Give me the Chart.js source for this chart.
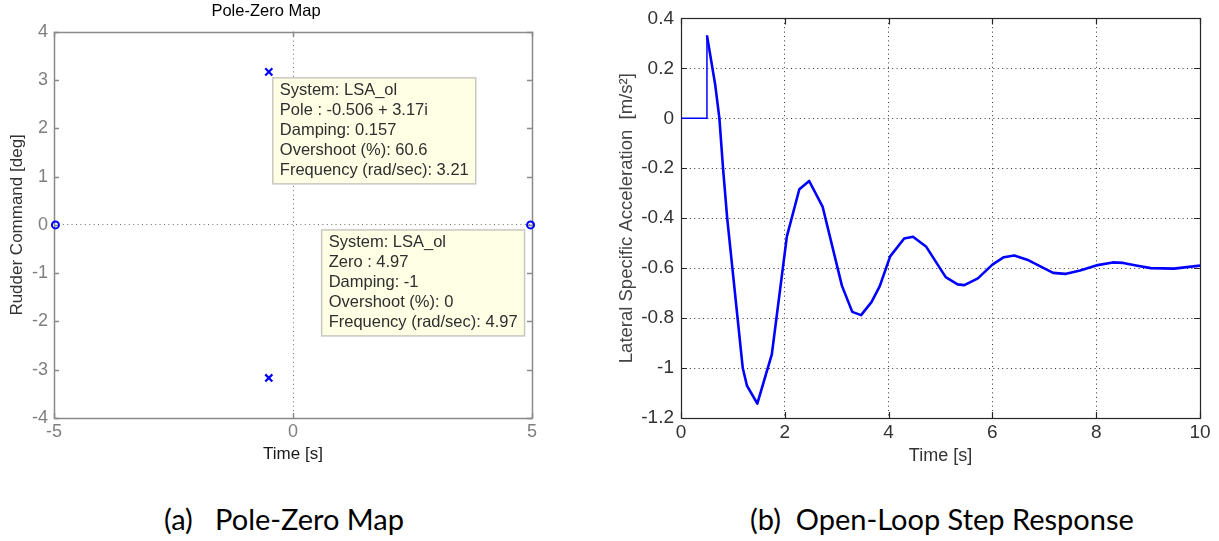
<!DOCTYPE html>
<html>
<head>
<meta charset="utf-8">
<title>Pole-Zero Map and Open-Loop Step Response</title>
<script src="https://cdn.jsdelivr.net/npm/chart.js"></script>
<style>
    body {
        margin: 0;
        background: #ffffff;
        width: 1219px;
        height: 541px;
        position: relative;
        overflow: hidden;
    }

    .panel {
        position: absolute;
        top: 0;
        height: 480px;
    }

    #pzPanel { left: 0; width: 600px; }
    #stepPanel { left: 600px; width: 619px; }

    /* Figure captions under each plot */
    .caption {
        position: absolute;
        top: 502px;
        font-family: Lato, 'Open Sans', sans-serif;
        font-size: 29px;
        line-height: 34px;
        color: #000;
        white-space: pre;
    }

    #capA { left: 164px; }
    #capB { left: 750px; }
</style>
</head>
<body>
<div class="panel" id="pzPanel"><canvas id="pzChart" width="600" height="480"></canvas></div>
<div class="panel" id="stepPanel"><canvas id="stepChart" width="619" height="480"></canvas></div>
<div class="caption" id="capA">(a)   Pole-Zero Map</div>
<div class="caption" id="capB">(b)  Open-Loop Step Response</div>

<script>
    // Pole-zero data
    const poleRe = [-0.506, -0.506];
    const poleIm = [3.17, -3.17];
    const zeroRe = [-4.97, 4.97];
    const zeroIm = [0, 0];
    const pzTicksX = [-5, 0, 5];
    const pzTicksY = [4, 3, 2, 1, 0, -1, -2, -3, -4];

    const poleInfo = ['System: LSA_ol', 'Pole : -0.506 + 3.17i', 'Damping: 0.157', 'Overshoot (%): 60.6', 'Frequency (rad/sec): 3.21'];
    const zeroInfo = ['System: LSA_ol', 'Zero : 4.97', 'Damping: -1', 'Overshoot (%): 0', 'Frequency (rad/sec): 4.97'];

    // Step response: flat part up to the step, then the response itself
    const preStepTime = [0, 0.5, 0.5];
    const preStepValue = [0, 0, 0.332];
    const stepTime = [0.5, 0.66, 0.74, 0.81, 0.89, 0.99, 1.09, 1.19, 1.27, 1.47, 1.75, 2.04, 2.28, 2.47, 2.73,
        3.10, 3.30, 3.47, 3.67, 3.83, 4.03, 4.30, 4.47, 4.72, 5.10, 5.33, 5.46, 5.72, 6.00, 6.22, 6.42, 6.67,
        7.17, 7.40, 7.69, 8.00, 8.32, 8.52, 8.77, 9.05, 9.50, 9.79, 10.0];
    const stepValue = [0.332, 0.133, 0.0, -0.2, -0.4, -0.6, -0.8, -1.0, -1.07, -1.142, -0.945, -0.473, -0.284, -0.251, -0.355,
        -0.67, -0.775, -0.788, -0.736, -0.672, -0.553, -0.481, -0.474, -0.513, -0.636, -0.665, -0.668, -0.641, -0.586, -0.556, -0.549, -0.566,
        -0.619, -0.623, -0.609, -0.589, -0.577, -0.579, -0.589, -0.6, -0.602, -0.595, -0.59];
    const stepTicksX = [0, 2, 4, 6, 8, 10];
    const stepTicksY = [0.4, 0.2, 0, -0.2, -0.4, -0.6, -0.8, -1, -1.2];

    const BLUE = '#0000ff';

    function toPoints(xs, ys) {
        return xs.map((x, i) => ({ x: x, y: ys[i] }));
    }

    function fixedTicks(values) {
        return scale => { scale.ticks = values.map(v => ({ value: v })); };
    }

    // Box around the plot area with small inward tick marks on all four sides
    const framePlugin = {
        id: 'frame',
        beforeDatasetsDraw(chart, args, opts) {
            const { ctx, chartArea: a, scales } = chart;
            const len = opts.tickLength || 5;
            ctx.save();
            ctx.strokeStyle = opts.color;
            ctx.lineWidth = opts.width || 1;
            ctx.beginPath();
            scales.x.ticks.forEach(t => {
                const px = Math.round(scales.x.getPixelForValue(t.value)) + 0.5;
                ctx.moveTo(px, a.bottom); ctx.lineTo(px, a.bottom - len);
                ctx.moveTo(px, a.top); ctx.lineTo(px, a.top + len);
            });
            scales.y.ticks.forEach(t => {
                const py = Math.round(scales.y.getPixelForValue(t.value)) + 0.5;
                ctx.moveTo(a.left, py); ctx.lineTo(a.left + len, py);
                ctx.moveTo(a.right, py); ctx.lineTo(a.right - len, py);
            });
            ctx.stroke();
            ctx.strokeRect(Math.round(a.left) + 0.5, Math.round(a.top) + 0.5,
                Math.round(a.right - a.left), Math.round(a.bottom - a.top));
            ctx.restore();
        }
    };

    // Data-tip boxes attached to a pole and a zero
    const dataTipPlugin = {
        id: 'dataTips',
        afterDraw(chart, args, opts) {
            const { ctx } = chart;
            (opts.tips || []).forEach(tip => {
                const el = chart.getDatasetMeta(tip.dataset).data[tip.index];
                ctx.save();
                ctx.font = opts.font;
                const textW = Math.max(...tip.lines.map(l => ctx.measureText(l).width));
                const w = textW + 2 * opts.padX;
                const h = tip.lines.length * opts.lineHeight + 6;
                const left = tip.side === 'right' ? el.x + tip.dx : el.x - tip.dx - w;
                const top = el.y + tip.dy;
                ctx.fillStyle = '#ffffe6';
                ctx.fillRect(left, top, w, h);
                ctx.strokeStyle = '#c8c8c0';
                ctx.lineWidth = 1.5;
                ctx.strokeRect(left, top, w, h);
                ctx.fillStyle = '#2e2e2e';
                ctx.textBaseline = 'middle';
                tip.lines.forEach((line, i) => {
                    ctx.fillText(line, left + opts.padX, top + 3 + opts.lineHeight * (i + 0.5));
                });
                ctx.restore();
            });
        }
    };

    Chart.defaults.font.family = "'Liberation Sans', Arial, sans-serif";

    new Chart(document.getElementById('pzChart'), {
        type: 'scatter',
        data: {
            datasets: [
                {
                    data: toPoints(poleRe, poleIm),
                    pointStyle: 'crossRot',
                    pointRadius: 5,
                    borderColor: BLUE,
                    borderWidth: 2.2
                },
                {
                    data: toPoints(zeroRe, zeroIm),
                    pointStyle: 'circle',
                    pointRadius: 3.5,
                    borderColor: BLUE,
                    backgroundColor: 'rgba(0,0,0,0)',
                    borderWidth: 2,
                    clip: false
                }
            ]
        },
        options: {
            responsive: false,
            animation: false,
            devicePixelRatio: 1,
            layout: { padding: { top: 0, right: 68, left: 0, bottom: 0 } },
            plugins: {
                legend: { display: false },
                tooltip: { enabled: false },
                title: {
                    display: true,
                    text: 'Pole-Zero Map',
                    color: '#000',
                    font: { size: 16.5, weight: 'normal' },
                    padding: { top: 2, bottom: 10 }
                },
                frame: { color: '#8a8a8a', width: 1.5, tickLength: 5 },
                dataTips: {
                    font: "16.5px 'Liberation Sans', Arial, sans-serif",
                    lineHeight: 20,
                    padX: 7,
                    tips: [
                        { dataset: 0, index: 0, side: 'right', dx: 4, dy: 6, lines: poleInfo },
                        { dataset: 1, index: 1, side: 'left', dx: 6, dy: 5, lines: zeroInfo }
                    ]
                }
            },
            scales: {
                x: {
                    type: 'linear',
                    min: -5,
                    max: 5,
                    afterBuildTicks: fixedTicks(pzTicksX),
                    afterFit: s => { s.height = 62; },
                    border: { display: false, dash: [1, 3.4] },
                    grid: {
                        drawTicks: false,
                        color: c => c.tick && c.tick.value === 0 ? '#6e6e6e' : 'rgba(0,0,0,0)'
                    },
                    ticks: { color: '#7f7f7f', font: { size: 18 }, padding: 3, maxRotation: 0 },
                    title: {
                        display: true,
                        text: 'Time [s]',
                        color: '#1a1a1a',
                        font: { size: 17 },
                        padding: { bottom: 15 }
                    }
                },
                y: {
                    type: 'linear',
                    min: -4,
                    max: 4,
                    afterBuildTicks: fixedTicks(pzTicksY),
                    afterFit: s => { s.width = 54; },
                    border: { display: false, dash: [1, 3.4] },
                    grid: {
                        drawTicks: false,
                        color: c => c.tick && c.tick.value === 0 ? '#6e6e6e' : 'rgba(0,0,0,0)'
                    },
                    ticks: { color: '#7f7f7f', font: { size: 18 }, padding: 6 },
                    title: {
                        display: true,
                        text: 'Rudder Command [deg]',
                        color: '#333',
                        font: { size: 17 },
                        padding: { top: 7 }
                    }
                }
            }
        },
        plugins: [framePlugin, dataTipPlugin]
    });

    new Chart(document.getElementById('stepChart'), {
        type: 'scatter',
        data: {
            datasets: [
                {
                    data: toPoints(preStepTime, preStepValue),
                    showLine: true,
                    pointRadius: 0,
                    borderColor: BLUE,
                    borderWidth: 1.5
                },
                {
                    data: toPoints(stepTime, stepValue),
                    showLine: true,
                    pointRadius: 0,
                    borderColor: BLUE,
                    borderWidth: 2.6,
                    borderJoinStyle: 'round'
                }
            ]
        },
        options: {
            responsive: false,
            animation: false,
            devicePixelRatio: 1,
            layout: { padding: { top: 11, right: 19, left: 0, bottom: 0 } },
            plugins: {
                legend: { display: false },
                tooltip: { enabled: false },
                frame: { color: '#262626', width: 1.2, tickLength: 6 }
            },
            scales: {
                x: {
                    type: 'linear',
                    min: 0,
                    max: 10,
                    afterBuildTicks: fixedTicks(stepTicksX),
                    afterFit: s => { s.height = 62; },
                    border: { display: false, dash: [1, 3.4] },
                    grid: { drawTicks: false, color: '#333' },
                    ticks: { color: '#333', font: { size: 19 }, padding: 3, maxRotation: 0 },
                    title: {
                        display: true,
                        text: 'Time [s]',
                        color: '#333',
                        font: { size: 18 },
                        padding: { bottom: 13 }
                    }
                },
                y: {
                    type: 'linear',
                    min: -1.2,
                    max: 0.4,
                    afterBuildTicks: fixedTicks(stepTicksY),
                    afterFit: s => { s.width = 81; },
                    border: { display: false, dash: [1, 3.4] },
                    grid: { drawTicks: false, color: '#333' },
                    ticks: {
                        color: '#333',
                        font: { size: 19 },
                        padding: 7,
                        callback: v => String(Math.round(v * 10) / 10)
                    },
                    title: {
                        display: true,
                        text: 'Lateral Specific Acceleration  [m/s²]',
                        color: '#444',
                        font: { size: 18.5 },
                        padding: { top: 16 }
                    }
                }
            }
        },
        plugins: [framePlugin]
    });
</script>
</body>
</html>
